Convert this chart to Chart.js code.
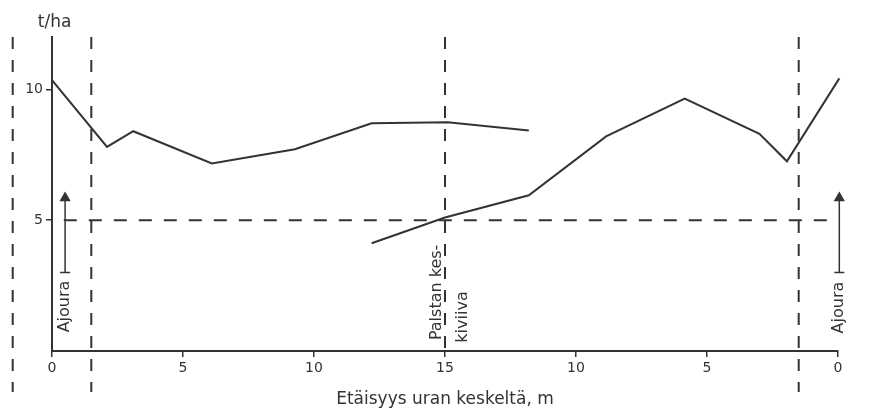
<!DOCTYPE html>
<html><head><meta charset="utf-8">
<script src="https://cdn.jsdelivr.net/npm/chart.js@4/dist/chart.umd.min.js"></script>
<style>html,body{margin:0;padding:0;background:#fff}#wrap{width:877px;height:411px}</style>
</head><body><div id="wrap"><canvas id="c" width="877" height="411"></canvas></div>
<script>
// ---- data ----
const xTickValues = [0, 5, 10, 15, 20, 25, 30];
const xTickLabels = ['0', '5', '10', '15', '10', '5', '0'];
const yTickValues = [5, 10];
const upperX = [0, 2.1, 3.1, 6.1, 9.27, 12.2, 15.1, 18.2];
const upperY = [10.35, 7.8, 8.4, 7.17, 7.71, 8.7, 8.74, 8.43];
const lowerX = [12.2, 15.0, 18.2, 21.15, 24.15, 27.0, 28.05, 30.05];
const lowerY = [4.12, 5.1, 5.95, 8.2, 9.65, 8.3, 7.25, 10.42];
const roadEdgesX = [-1.5, 1.5, 28.5];
const stripCenterX = 15;
const referenceY = 5;
const yTitle = 't/ha';
const xTitle = 'Etäisyys uran keskeltä, m';
const roadLabel = 'Ajoura';
const centerLabel = ['Palstan kes-', 'kiviiva'];

// ---- styling / layout ----
const ink = '#333333';
const FONT = '"DejaVu Sans", sans-serif';

const pts = (xs, ys) => xs.map((v, i) => ({x: v, y: ys[i]}));
const lineDs = (data, extra) => Object.assign({
  data, borderColor: ink, borderWidth: 2, pointRadius: 0, fill: false,
  tension: 0, clip: false, showLine: true
}, extra || {});

const datasets = [];
// road edge dashed lines
roadEdgesX.forEach(v => datasets.push(lineDs([{x: v, y: 12}, {x: v, y: -1.57}], {borderDash: [12, 11], borderWidth: 2})));
// strip center dashed line
datasets.push(lineDs([{x: stripCenterX, y: 12}, {x: stripCenterX, y: 0}], {borderDash: [12, 11], borderWidth: 2}));
// reference horizontal dashed line
datasets.push(lineDs([{x: 0.45, y: referenceY}, {x: 30, y: referenceY}], {borderDash: [13, 12], borderWidth: 2}));
// arrows
[0.5, 30.05].forEach(ax => datasets.push(lineDs([{x: ax, y: 3.0}, {x: ax, y: 5.85}], {
  borderWidth: 1.5, pointStyle: ['line', 'triangle'], pointRadius: [5, 5],
  pointBorderColor: ink, pointBackgroundColor: ink, pointBorderWidth: 1.5
})));
// data series
datasets.push(lineDs(pts(upperX, upperY), {borderWidth: 2}));
datasets.push(lineDs(pts(lowerX, lowerY), {borderWidth: 2}));

const annotations = [
  {text: yTitle, x: 0.1, y: 12.57, size: 17, rot: 0},
  {text: xTitle, x: 15.0, y: -1.87, size: 17, rot: 0},
  {text: roadLabel, x: 0.5, y: 1.70, size: 16, rot: -Math.PI / 2},
  {text: roadLabel, x: 30.05, y: 1.66, size: 16, rot: -Math.PI / 2},
  {text: centerLabel[0], x: 14.69, y: 2.24, size: 16, rot: -Math.PI / 2},
  {text: centerLabel[1], x: 15.67, y: 1.30, size: 16, rot: -Math.PI / 2}
];

const textPlugin = {
  id: 'texts',
  afterDraw(chart) {
    const {ctx} = chart; const sx = chart.scales.x, sy = chart.scales.y;
    ctx.save();
    ctx.fillStyle = ink; ctx.textAlign = 'center'; ctx.textBaseline = 'middle';
    annotations.forEach(a => {
      ctx.save();
      ctx.font = a.size + 'px ' + FONT;
      ctx.translate(sx.getPixelForValue(a.x), sy.getPixelForValue(a.y));
      ctx.rotate(a.rot);
      ctx.fillText(a.text, 0, 0);
      ctx.restore();
    });
    ctx.restore();
  }
};

new Chart(document.getElementById('c'), {
  type: 'scatter',
  data: {datasets},
  options: {
    responsive: false, animation: false, devicePixelRatio: 1,
    layout: {padding: {top: 37, left: 0, right: 39, bottom: 34}},
    plugins: {legend: {display: false}, tooltip: {enabled: false}},
    scales: {
      x: {
        type: 'linear', min: 0, max: 30,
        afterBuildTicks: s => { s.ticks = xTickValues.map(v => ({value: v})); },
        afterFit: s => { s.height = 26; },
        grid: {drawOnChartArea: false, drawTicks: true, tickLength: 6, color: ink, lineWidth: 1.5},
        border: {display: true, color: ink, width: 2},
        ticks: {color: ink, font: {family: FONT, size: 14}, padding: 3, maxRotation: 0, autoSkip: false,
          callback: (v, i) => xTickLabels[i]}
      },
      y: {
        type: 'linear', min: 0, max: 12, position: 'left',
        afterBuildTicks: s => { s.ticks = yTickValues.map(v => ({value: v})); },
        afterFit: s => { s.width = 52; },
        grid: {drawOnChartArea: false, drawTicks: true, tickLength: 6, color: ink, lineWidth: 1.5},
        border: {display: true, color: ink, width: 2},
        ticks: {color: ink, font: {family: FONT, size: 14}, padding: 3, callback: v => String(v)}
      }
    }
  },
  plugins: [textPlugin]
});
</script></body></html>
